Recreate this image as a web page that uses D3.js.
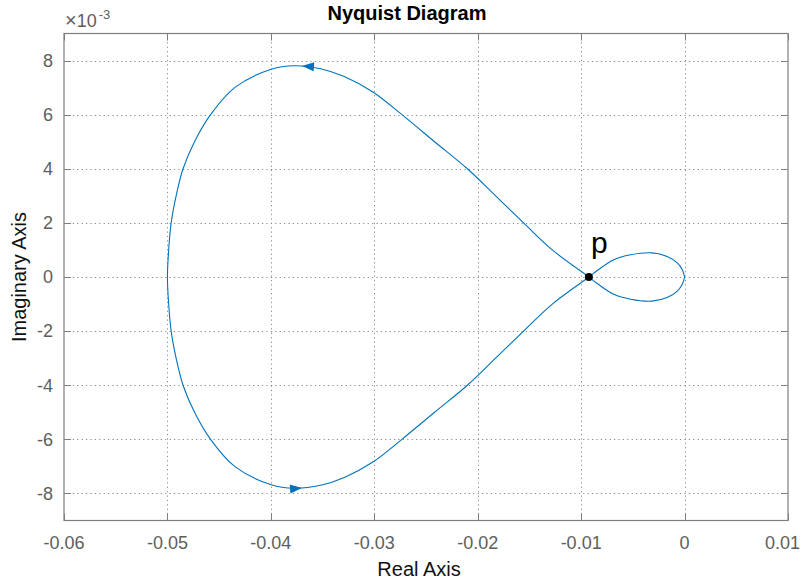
<!DOCTYPE html>
<html>
<head>
<meta charset="utf-8">
<script src="https://cdn.jsdelivr.net/npm/d3@7"></script>
<style>
  body { margin: 0; background: #fff; }
  svg { font-family: "Liberation Sans", Arial, Helvetica, sans-serif; }
</style>
</head>
<body>
<svg id="chart" width="804" height="581"></svg>
<script>
// Tick values
const xTicks = [-0.06, -0.05, -0.04, -0.03, -0.02, -0.01, 0, 0.01];
const yTicks = [-8, -6, -4, -2, 0, 2, 4, 6, 8];

// One branch of the Nyquist curve (imag part in units of 1e-3):
// from -0.05 up over the big arc to p, then through the lower small lobe to the origin
const branchRe = [-0.0500, -0.04988, -0.04964, -0.04916, -0.04849, -0.04738, -0.04583, -0.04350,
                  -0.03996, -0.03777, -0.03519, -0.03290, -0.03010, -0.02730, -0.02417, -0.02100,
                  -0.01827, -0.01554, -0.01279, -0.00925,
                  -0.00844, -0.00684, -0.00522, -0.00314, -0.00169, -0.00070, -0.00022, 0];
const branchIm = [0, 1.0, 2.0, 3.0, 4.0, 5.0, 6.0, 7.0,
                  7.68, 7.81, 7.70, 7.41, 6.83, 5.99, 5.0, 4.0,
                  3.0, 1.99, 1.0, 0,
                  -0.24, -0.64, -0.82, -0.89, -0.76, -0.52, -0.27, 0];

// Direction arrows (tip positions)
const arrowRe = [-0.0370, -0.0370];
const arrowIm = [7.8, -7.8];

// Marked point
const pointRe = -0.00925;
const pointIm = 0;
const pointLabel = 'p';

const svg = d3.select('#chart');
const margin = { left: 64, right: 16, top: 33.5, bottom: 60.5 };
const width = 804, height = 581;

const x = d3.scaleLinear().domain([-0.06, 0.01]).range([margin.left, width - margin.right]);
const y = d3.scaleLinear().domain([-9, 9]).range([height - margin.bottom, margin.top]);

const axisColor = '#7f7f7f';
const textColor = '#5e5e5e';
const curveColor = '#0072bd';

// Grid lines
const grid = svg.append('g');
grid.selectAll('.gx').data(xTicks.slice(1, -1)).enter().append('line')
    .attr('x1', d => Math.round(x(d)) + 0.5).attr('x2', d => Math.round(x(d)) + 0.5)
    .attr('y1', y(9)).attr('y2', y(-9))
    .attr('stroke', '#8a8a8a').attr('stroke-width', 1).attr('stroke-dasharray', '1.2,3.2');
grid.selectAll('.gy').data(yTicks).enter().append('line')
    .attr('y1', d => Math.round(y(d)) + 0.5).attr('y2', d => Math.round(y(d)) + 0.5)
    .attr('x1', x(-0.06)).attr('x2', x(0.01))
    .attr('stroke', '#8a8a8a').attr('stroke-width', 1).attr('stroke-dasharray', '1.2,3.2');

// Box and inner ticks
const plot = svg.append('g');
plot.append('rect')
    .attr('x', x(-0.06)).attr('y', y(9))
    .attr('width', x(0.01) - x(-0.06)).attr('height', y(-9) - y(9))
    .attr('fill', 'none').attr('stroke', axisColor).attr('stroke-width', 1.2);

const tl = 7;
xTicks.forEach(d => {
    const px = Math.round(x(d)) + 0.5;
    plot.append('line').attr('x1', px).attr('x2', px).attr('y1', y(-9)).attr('y2', y(-9) - tl)
        .attr('stroke', axisColor);
    plot.append('line').attr('x1', px).attr('x2', px).attr('y1', y(9)).attr('y2', y(9) + tl)
        .attr('stroke', axisColor);
});
yTicks.forEach(d => {
    const py = Math.round(y(d)) + 0.5;
    plot.append('line').attr('y1', py).attr('y2', py).attr('x1', x(-0.06)).attr('x2', x(-0.06) + tl)
        .attr('stroke', axisColor);
    plot.append('line').attr('y1', py).attr('y2', py).attr('x1', x(0.01)).attr('x2', x(0.01) - tl)
        .attr('stroke', axisColor);
});

// Tick labels (keep the last one inside the window)
svg.append('g').selectAll('text').data(xTicks).enter().append('text')
    .attr('x', d => x(d)).attr('y', y(-9) + 28)
    .attr('text-anchor', 'middle').attr('font-size', '18px').attr('fill', textColor)
    .text(d => d === 0 ? '0' : d3.format('.2f')(d).replace('\u2212', '-'))
    .each(function(d) {
        const w = this.getComputedTextLength();
        const overflow = x(d) + w / 2 - (width - 4);
        if (overflow > 0) d3.select(this).attr('x', x(d) - overflow);
    });
svg.append('g').selectAll('text').data(yTicks).enter().append('text')
    .attr('x', x(-0.06) - 11).attr('y', d => y(d)).attr('dy', '0.35em')
    .attr('text-anchor', 'end').attr('font-size', '18px').attr('fill', textColor)
    .text(d => String(d));

// Exponent label
const expo = svg.append('text').attr('x', 65).attr('y', 27).attr('font-size', '18px').attr('fill', textColor);
expo.append('tspan').attr('font-size', '20px').text('\u00d7');
expo.append('tspan').text('10');
expo.append('tspan').attr('dy', -8).attr('dx', 2).attr('font-size', '13px').text('-3');

// Title and axis labels
svg.append('text').attr('x', 407).attr('y', 20).attr('text-anchor', 'middle')
    .attr('font-size', '20px').attr('font-weight', 'bold').attr('fill', '#000')
    .text('Nyquist Diagram');
svg.append('text').attr('x', 419).attr('y', 576).attr('text-anchor', 'middle')
    .attr('font-size', '20px').attr('fill', '#111').text('Real Axis');
svg.append('text').attr('transform', `translate(26, ${y(0)}) rotate(-90)`).attr('text-anchor', 'middle')
    .attr('font-size', '20px').attr('fill', '#111').text('Imaginary Axis');

// Curve: reversed branch, then its complex conjugate
const branch = branchRe.map((r, i) => [r, branchIm[i]]);
const loop = branch.slice().reverse().concat(branch.slice(1).map(d => [d[0], -d[1]]));

const line = d3.line().x(d => x(d[0])).y(d => y(d[1])).curve(d3.curveCatmullRom.alpha(0.5));
const path = svg.append('path').datum(loop)
    .attr('d', line).attr('fill', 'none')
    .attr('stroke', curveColor).attr('stroke-width', 1.1);

// Arrows oriented along the path
const node = path.node();
const total = node.getTotalLength();
const samples = d3.range(0, total, 0.5).map(l => node.getPointAtLength(l));
arrowRe.forEach((r, i) => {
    const tx = x(r), ty = y(arrowIm[i]);
    const k = d3.minIndex(samples, p => (p.x - tx) ** 2 + (p.y - ty) ** 2);
    const a = samples[Math.max(k - 6, 0)], b = samples[Math.min(k + 6, samples.length - 1)];
    const ang = Math.atan2(b.y - a.y, b.x - a.x) * 180 / Math.PI;
    const tip = samples[k];
    svg.append('path')
        .attr('d', 'M0,0 L-12,-4.5 L-12,4.5 Z')
        .attr('transform', `translate(${tip.x},${tip.y}) rotate(${ang})`)
        .attr('fill', curveColor);
});

// Point p
svg.append('circle').attr('cx', x(pointRe)).attr('cy', y(pointIm)).attr('r', 4).attr('fill', '#000');
svg.append('text').attr('x', x(pointRe) + 2).attr('y', y(pointIm) - 24)
    .attr('font-size', '30px').attr('fill', '#000').text(pointLabel);
</script>
</body>
</html>
